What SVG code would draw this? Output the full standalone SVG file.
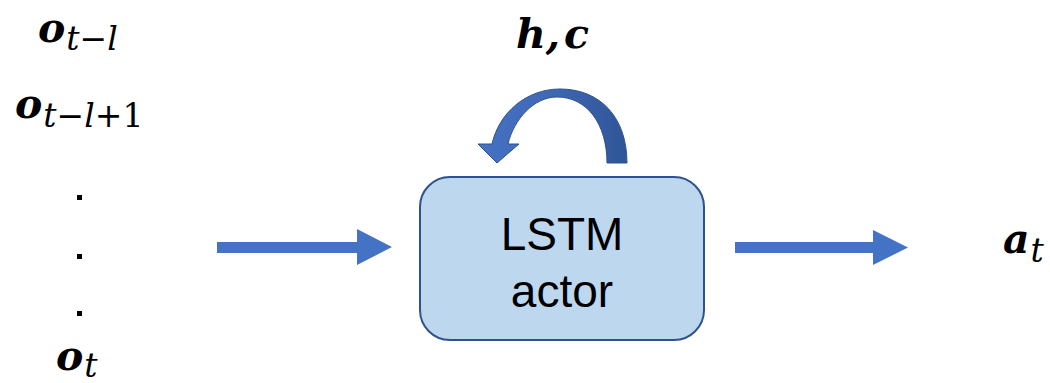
<svg xmlns="http://www.w3.org/2000/svg" width="1050" height="383" viewBox="0 0 1050 383">
  <style>
    .mv { font-family: "DejaVu Serif", "Liberation Serif", serif; font-style: italic; font-weight: bold; font-size: 41px; fill: #000; }
    .sub { font-family: "DejaVu Serif", "Liberation Serif", serif; font-style: italic; font-weight: normal; font-size: 33px; }
    .subn { font-family: "DejaVu Serif", "Liberation Serif", serif; font-style: normal; font-weight: normal; font-size: 33px; }
    .lbl { font-family: "Liberation Sans", Arial, sans-serif; font-size: 46px; fill: #000; text-anchor: middle; }
    .flow { fill: #4472C4; }
    .dot { fill: #000; }
  </style>
  <defs>
    <linearGradient id="loopGrad" x1="0" y1="0" x2="1" y2="0">
      <stop offset="0" stop-color="#4472C4"/>
      <stop offset="0.45" stop-color="#4169B6"/>
      <stop offset="1" stop-color="#2F5597"/>
    </linearGradient>
  </defs>

  <!-- input sequence -->
  <g id="inputs">
    <text class="mv" x="38" y="42">o<tspan class="sub" dx="1" dy="8">t−l</tspan></text>
    <text class="mv" x="15" y="118">o<tspan class="sub" dx="1" dy="9">t−l</tspan><tspan class="subn">+1</tspan></text>
    <rect class="dot" x="77" y="195" width="5" height="5"/>
    <rect class="dot" x="77" y="254" width="5" height="5"/>
    <rect class="dot" x="77" y="311" width="5" height="5"/>
    <text class="mv" x="56" y="370">o<tspan class="sub" dx="1" dy="7">t</tspan></text>
  </g>

  <!-- hidden and cell state label -->
  <g id="state">
    <text class="mv" x="516" y="48" font-size="43">h,<tspan dx="4">c</tspan></text>
  </g>

  <!-- LSTM actor node -->
  <g id="lstm">
    <rect x="420" y="177" width="284" height="163" rx="30" ry="30" fill="#BDD7EE" stroke="#2F528F" stroke-width="2"/>
    <text class="lbl" x="562" y="250">LSTM</text>
    <text class="lbl" x="562" y="307">actor</text>
  </g>

  <!-- output action -->
  <g id="action">
    <text class="mv" x="1003" y="253">a<tspan class="sub" dx="1" dy="9">t</tspan></text>
  </g>

  <!-- connectors -->
  <g id="connectors">
    <path class="flow" d="M217 242 H357 V229 L392 247 L357 265 V253 H217 Z"/>
    <path class="flow" d="M735 242 H873 V230 L908 247.5 L873 265 V253 H735 Z"/>
    <path fill="url(#loopGrad)" stroke="#2F528F" stroke-width="1" d="M627 163 C627 117 600 89 560 89 C526 89 499 113 492 144 L478 144 L497 163 L519 144 L508 144 C514 119 534 97 557 97 C587 97 607 124 607 163 Z"/>
  </g>
</svg>
